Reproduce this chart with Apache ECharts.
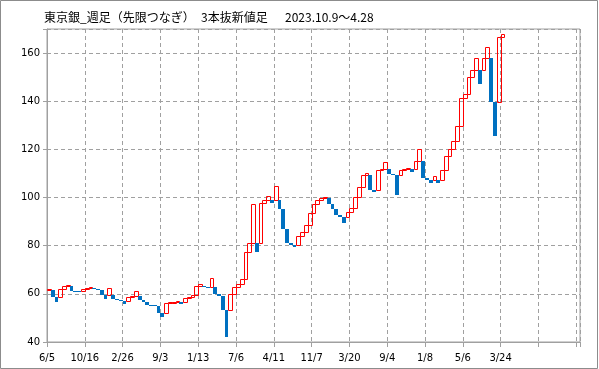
<!DOCTYPE html>
<html><head><meta charset="utf-8">
<script src="https://cdn.jsdelivr.net/npm/echarts@6/dist/echarts.min.js"></script>
<style>html,body{margin:0;padding:0;background:#fff}#c{width:599px;height:369px}</style>
</head><body><div id="c"></div>
<script>
const titleMain = '東京銀_週足（先限つなぎ）';
const titleType = '3本抜新値足';
const titlePeriod = '2023.10.9～4.28';
const tickLabels = ['6/5','10/16','2/26','9/3','1/13','7/6','4/11','11/7','3/20','9/4','1/8','5/6','3/24'];
const barOpen = [61.6,61.6,58.5,58.5,62.0,63.2,63.2,61.3,61.0,61.0,
62.0,62.6,62.6,62.1,61.4,59.6,59.6,59.6,57.9,57.5,
56.9,56.9,58.7,59.3,59.3,57.6,56.8,55.3,55.2,55.0,
52.1,52.1,56.1,56.5,56.7,56.7,56.7,58.1,58.8,59.6,
63.4,63.4,63.0,63.0,63.0,60.0,59.3,53.2,53.2,60.0,
62.7,64.1,66.2,77.5,81.0,81.0,81.0,97.7,98.9,98.9,
98.9,98.9,95.1,86.9,81.1,80.2,80.2,84.0,85.8,88.6,
93.4,97.3,99.0,99.9,99.9,97.2,95.3,92.7,92.1,92.1,
94.0,95.8,100.2,104.2,109.5,109.5,103.0,103.0,111.4,111.9,
111.9,109.8,109.4,109.4,111.3,111.9,111.9,111.9,115.0,115.0,
108.3,107.3,107.3,107.3,107.3,111.6,117.1,120.1,123.3,129.9,
141.2,143.1,150.0,152.8,152.8,152.8,158.0,158.0,139.8,139.8,
166.8];
const barClose = [62.1,58.5,56.8,62.0,63.2,63.7,61.3,61.0,60.7,62.0,
62.6,63.0,62.1,61.4,59.6,57.8,62.5,57.9,57.5,56.9,
55.7,58.7,59.3,61.2,57.6,56.8,55.3,55.2,55.0,52.1,
50.4,56.1,56.5,56.7,56.9,55.6,58.1,58.8,59.6,63.4,
64.0,63.0,62.5,66.5,60.0,59.3,53.2,42.1,60.0,62.7,
64.1,66.2,77.5,81.0,97.3,77.2,97.7,98.9,100.5,97.6,
104.7,95.1,86.9,81.1,80.2,79.3,84.0,85.8,88.6,93.4,
97.3,99.0,99.9,100.4,97.2,95.3,92.7,92.1,89.4,94.0,
95.8,100.2,104.2,109.5,110.3,103.0,102.2,111.4,111.9,114.6,
109.8,109.4,101.1,111.3,111.9,112.2,110.4,115.0,120.0,108.3,
107.3,106.2,108.9,106.2,111.6,117.1,120.1,123.3,129.9,141.2,
143.1,150.0,152.8,158.0,147.2,158.0,162.7,139.8,125.6,166.8,
168.0];

const data = barOpen.map((o, i) => [i, o, barClose[i]]);
const chart = echarts.init(document.getElementById('c'), null, {renderer: 'canvas'});
const gridColor = '#a0a0a0';
const tfont = {fontFamily: '"Noto Sans CJK JP", sans-serif', fontSize: 12, fontWeight: 'normal', color: '#000'};
chart.setOption({
  animation: false,
  backgroundColor: '#fff',
  title: [
    {text: titleMain, left: 44, top: 11, padding: 0, textStyle: tfont},
    {text: titleType, left: 201, top: 11, padding: 0, textStyle: tfont},
    {text: titlePeriod, left: 285, top: 11, padding: 0, textStyle: tfont}
  ],
  graphic: [{type: 'rect', shape: {x: 0.5, y: 0.5, width: 597, height: 368}, style: {fill: 'none', stroke: '#8c8c8c', lineWidth: 1}, silent: true}],
  grid: {left: 47, right: 19, top: 29, bottom: 27, show: true, borderColor: gridColor, borderWidth: 1, backgroundColor: 'transparent'},
  xAxis: {
    type: 'value', min: 0, max: 141, interval: 10,
    axisLine: {show: true, onZero: false, lineStyle: {color: gridColor}},
    axisTick: {show: true, length: 5, lineStyle: {color: gridColor}},
    splitLine: {show: true, lineStyle: {color: gridColor, type: [4, 3], width: 1}},
    axisLabel: {margin: 11, color: '#000', fontFamily: '"DejaVu Sans"', fontSize: 10,
      formatter: v => { const k = Math.round(v / 10); return (v % 10 === 0 && k < tickLabels.length) ? tickLabels[k] : ''; }}
  },
  yAxis: {
    type: 'value', min: 40, max: 170, interval: 20,
    axisLine: {show: true, lineStyle: {color: gridColor}},
    axisTick: {show: true, length: 4, lineStyle: {color: gridColor}},
    splitLine: {show: true, lineStyle: {color: gridColor, type: [4, 3], width: 1}},
    axisLabel: {margin: 7, color: '#000', fontFamily: '"DejaVu Sans"', fontSize: 10,
      formatter: v => (v % 20 === 0 ? String(v) : '')}
  },
  series: [{
    type: 'custom',
    coordinateSystem: 'cartesian2d',
    encode: {x: 0, y: [1, 2]},
    data: data,
    renderItem: function (params, api) {
      const i = api.value(0), o = api.value(1), c = api.value(2);
      const hi = Math.max(o, c), lo = Math.min(o, c);
      const p0 = api.coord([i, hi]);
      const p1 = api.coord([i + 1, lo]);
      if (c >= o) {
        const x = Math.round(p0[0]) + 0.5, x2 = Math.round(p1[0]) + 0.5;
        const y = Math.round(p0[1]) + 0.5, y2 = Math.max(Math.round(p1[1]) + 0.5, y + 1);
        return {type: 'rect', shape: {x: x, y: y, width: x2 - x, height: y2 - y},
          style: {fill: 'none', stroke: '#ff0000', lineWidth: 1}};
      }
      const x = Math.round(p0[0]), x2 = Math.round(p1[0]);
      const y = Math.round(p0[1]), y2 = Math.max(Math.round(p1[1]), y + 1);
      return {type: 'rect', shape: {x: x, y: y, width: x2 - x, height: y2 - y},
        style: {fill: '#0070c0', stroke: null}};
    }
  }]
});
</script></body></html>
